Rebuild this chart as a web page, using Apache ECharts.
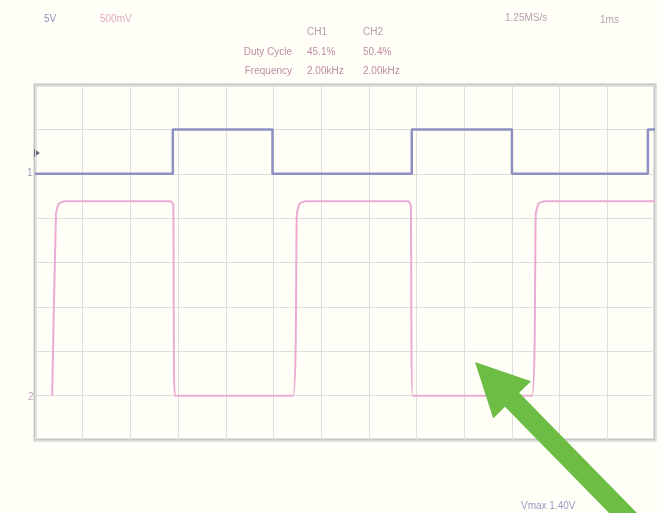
<!DOCTYPE html>
<html>
<head>
<meta charset="utf-8">
<script src="https://cdn.jsdelivr.net/npm/echarts@6/dist/echarts.min.js"></script>
<style>
  html, body { margin: 0; padding: 0; background: #fffff8; }
  #scope { width: 662px; height: 513px; }
</style>
</head>
<body>
<div id="scope"></div>
<script>
// Time in divisions (13 across), voltage in divisions (8 high)
const ch1Wave = [
  [0, 6], [2.89, 6], [2.89, 7], [4.98, 7], [4.98, 6],
  [7.9, 6], [7.9, 7], [10.0, 7], [10.0, 6],
  [12.85, 6], [12.85, 7], [13, 7]
];
const ch2Wave = [
  [0.36, 1], [0.44, 5.1], [0.5, 5.33], [0.62, 5.38], [2.84, 5.38], [2.9, 5.3], [2.93, 1],
  [5.41, 1], [5.49, 5.1], [5.55, 5.33], [5.67, 5.38], [7.82, 5.38], [7.88, 5.3], [7.92, 1],
  [10.42, 1], [10.5, 5.1], [10.56, 5.33], [10.68, 5.38], [13, 5.38]
];
const channelNames = ['CH1', 'CH2'];
const dutyCycle = ['45.1%', '50.4%'];
const frequency = ['2.00kHz', '2.00kHz'];
const ch1Scale = '5V';
const ch2Scale = '500mV';
const sampleRate = '1.25MS/s';
const timeBase = '1ms';
const readout = 'Vmax 1.40V';

const chart = echarts.init(document.getElementById('scope'), null, { renderer: 'canvas' });
const font = 'Liberation Sans, Arial, sans-serif';
const txt = (x, y, text, fill, align) => ({
  type: 'text', x: x, y: y,
  style: { text: text, fill: fill, font: '10px ' + font, textAlign: align || 'left', textVerticalAlign: 'middle' }
});

chart.setOption({
  backgroundColor: '#fffff8',
  animation: false,
  grid: {
    left: 35, right: 7, top: 85, bottom: 73,
    show: true, borderColor: '#c6c6c6', borderWidth: 3, backgroundColor: 'transparent'
  },
  xAxis: {
    type: 'value', min: 0, max: 13, interval: 1,
    axisLine: { show: false }, axisTick: { show: false }, axisLabel: { show: false },
    splitLine: { show: true, lineStyle: { color: '#dedede', width: 1 } }
  },
  yAxis: {
    type: 'value', min: 0, max: 8, interval: 1,
    axisLine: { show: false }, axisTick: { show: false }, axisLabel: { show: false },
    splitLine: { show: true, lineStyle: { color: '#dedede', width: 1 } }
  },
  series: [
    {
      name: channelNames[0], type: 'line', data: ch1Wave, symbol: 'none',
      lineStyle: { color: '#8e90c2', width: 2.5 }
    },
    {
      name: channelNames[1], type: 'line', data: ch2Wave, symbol: 'none', smooth: 0.15,
      lineStyle: { color: '#eaaad2', width: 2 }
    }
  ],
  graphic: [
    txt(44, 19, ch1Scale, '#8f90b8'),
    txt(100, 19, ch2Scale, '#e3a9c3'),
    txt(307, 32, channelNames[0], '#b49aa8'),
    txt(363, 32, channelNames[1], '#b49aa8'),
    txt(292, 52, 'Duty Cycle', '#c08ea6', 'right'),
    txt(307, 52, dutyCycle[0], '#c08ea6'),
    txt(363, 52, dutyCycle[1], '#c08ea6'),
    txt(292, 71, 'Frequency', '#c08ea6', 'right'),
    txt(307, 71, frequency[0], '#c08ea6'),
    txt(363, 71, frequency[1], '#c08ea6'),
    txt(505, 18, sampleRate, '#b79fac'),
    txt(600, 20, timeBase, '#b79fac'),
    txt(521, 506, readout, '#9a9cc4'),
    // channel ground / trigger markers
    txt(27, 173, '1', '#9a9ab0'),
    txt(28, 397, '2', '#c0a8b8'),
    { type: 'polygon', shape: { points: [[34, 149], [40, 153], [34, 157]] }, style: { fill: '#6a6a7a' } },
    // green pointer arrow
    {
      type: 'polygon', z: 100,
      shape: { points: [[475, 362], [531, 381.3], [519.2, 392.8], [657.1, 533.5], [642.9, 547.5], [505, 406.8], [493.2, 418.4]] },
      style: { fill: '#6dbd45' }
    }
  ]
});
</script>
</body>
</html>
